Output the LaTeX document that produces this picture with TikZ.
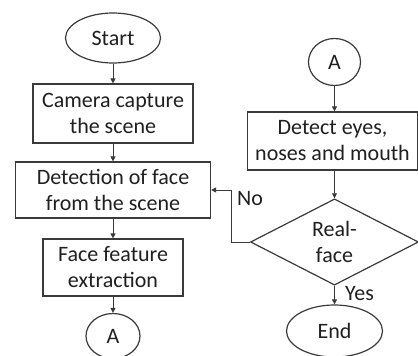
\documentclass[tikz,border=0pt]{standalone}
\usepackage{fontspec}
\setmainfont{Carlito}
\usepackage{tikz}
\usetikzlibrary{arrows.meta, positioning, shapes.geometric}
\definecolor{trait}{HTML}{3A3A3A}
\definecolor{texte}{HTML}{202020}
\tikzset{
  boite/.style={rectangle, draw=trait, fill=white, text=texte, line width=1.2pt,
    font=\fontsize{22}{26}\selectfont, align=center, inner sep=0pt},
  terminal/.style={boite, ellipse},
  renvoi/.style={boite, ellipse},
  test/.style={boite, diamond},
  fleche/.style={-{Triangle[length=5pt, width=5pt]}, line width=0.9pt, color=trait},
  etiquette/.style={font=\fontsize{22}{26}\selectfont, text=texte, inner sep=0pt, anchor=west}
}
\begin{document}
\begin{tikzpicture}[x=1pt, y=-1pt]
    \useasboundingbox (0, 0) rectangle (418, 356);

    % Colonne gauche
    \node[terminal, minimum width=95, minimum height=50] (debut) at (113, 38) {Start};
    \node[boite, minimum width=160, minimum height=59] (camera) at (113, 113.5) {Camera capture\\ the scene};
    \node[boite, minimum width=195, minimum height=56] (detection) at (113, 190) {Detection of face\\ from the scene};
    \node[boite, minimum width=140, minimum height=57] (extraction) at (113, 267.5) {Face feature\\ extraction};
    \node[renvoi, minimum width=54, minimum height=45] (renvoiA) at (113, 336) {A};

    % Colonne droite
    \node[renvoi, minimum width=52, minimum height=47] (renvoiB) at (334.5, 62) {A};
    \node[boite, minimum width=170, minimum height=58] (traits) at (332.5, 141) {Detect eyes,\\ noses and mouth};
    \node[test, minimum width=168, minimum height=83] (reel) at (334.5, 242) {Real-\\ face};
    \node[terminal, minimum width=96, minimum height=52] (fin) at (334.5, 331) {End};

    \draw[fleche] (debut) -- (camera);
    \draw[fleche] (camera) -- (detection);
    \draw[fleche] (detection) -- (extraction);
    \draw[fleche] (extraction) -- (renvoiA);
    \draw[fleche] (renvoiB) -- (renvoiB |- traits.north);
    \draw[fleche] (traits.south -| reel) -- (reel);
    \draw[fleche] (reel) -- (fin);

    % Retour si le visage n'est pas reel
    \coordinate (coude) at (231, 242);
    \draw[fleche] (reel.west) -- (coude) |- (detection.east);
    \node[etiquette] (non) at (237, 199) {No};
    \node[etiquette] (oui) at (345, 294) {Yes};
  \end{tikzpicture}
\end{document}
